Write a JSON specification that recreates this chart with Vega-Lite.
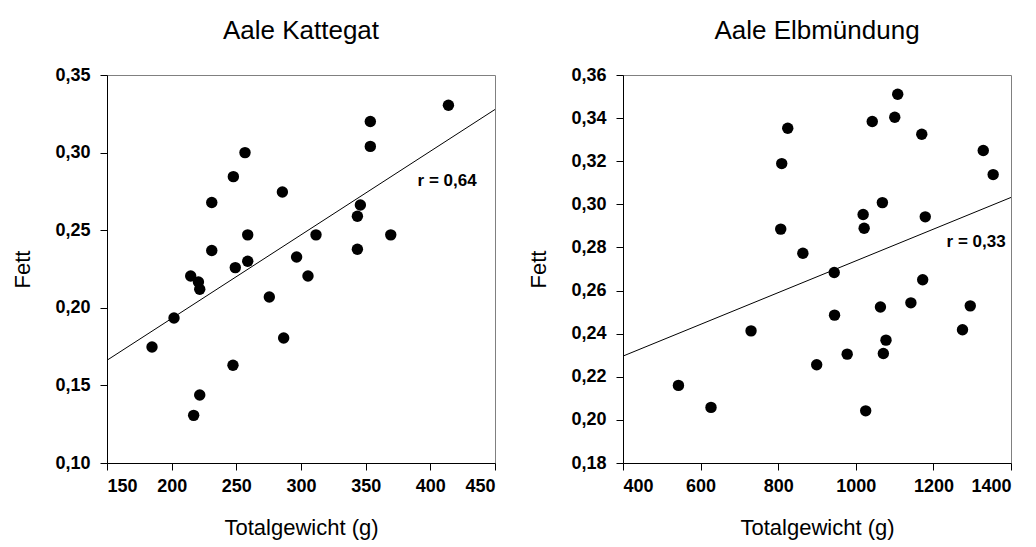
{
  "$schema": "https://vega.github.io/schema/vega-lite/v6.json",
  "background": "white",
  "padding": {"left": 11, "top": 17, "right": 5, "bottom": 5},
  "config": {
    "font": "Liberation Sans",
    "view": {"stroke": "#808080", "strokeWidth": 1},
    "axis": {
      "grid": false,
      "labelFont": "Liberation Sans",
      "labelFontWeight": "bold",
      "labelFontSize": 18,
      "labelColor": "black",
      "titleFont": "Liberation Sans",
      "titleFontWeight": "normal",
      "titleFontSize": 22,
      "titleColor": "black",
      "domainColor": "black",
      "tickColor": "black",
      "tickSize": 7
    },
    "title": {"font": "Liberation Sans", "fontSize": 26, "fontWeight": "normal", "color": "black", "offset": 22}
  },
  "datasets": {
    "kattegat": [
      {"gewicht": 414, "fett": 0.3305},
      {"gewicht": 353.6, "fett": 0.320},
      {"gewicht": 353.6, "fett": 0.304},
      {"gewicht": 256.7, "fett": 0.300},
      {"gewicht": 247.7, "fett": 0.2845},
      {"gewicht": 285.6, "fett": 0.2746},
      {"gewicht": 231, "fett": 0.2678},
      {"gewicht": 345.9, "fett": 0.2662},
      {"gewicht": 343.6, "fett": 0.259},
      {"gewicht": 258.8, "fett": 0.247},
      {"gewicht": 311.6, "fett": 0.247},
      {"gewicht": 369.4, "fett": 0.247},
      {"gewicht": 231, "fett": 0.2369},
      {"gewicht": 343.6, "fett": 0.2377},
      {"gewicht": 258.8, "fett": 0.230},
      {"gewicht": 296.6, "fett": 0.2327},
      {"gewicht": 249.2, "fett": 0.2259},
      {"gewicht": 305.4, "fett": 0.2205},
      {"gewicht": 214.7, "fett": 0.2205},
      {"gewicht": 220.7, "fett": 0.2166},
      {"gewicht": 221.7, "fett": 0.2119},
      {"gewicht": 275.5, "fett": 0.207},
      {"gewicht": 201.8, "fett": 0.1934},
      {"gewicht": 184.8, "fett": 0.1747},
      {"gewicht": 286.6, "fett": 0.1805},
      {"gewicht": 247.4, "fett": 0.163},
      {"gewicht": 221.7, "fett": 0.1438},
      {"gewicht": 217, "fett": 0.1307}
    ],
    "kattegat_fit": [
      {"gewicht": 150, "fett": 0.1662},
      {"gewicht": 450, "fett": 0.3278}
    ],
    "kattegat_r": [
      {"gewicht": 413, "fett": 0.2817, "label": "r = 0,64"}
    ],
    "elbe": [
      {"gewicht": 1108, "fett": 0.3511},
      {"gewicht": 1100.4, "fett": 0.3404},
      {"gewicht": 1042.4, "fett": 0.3384},
      {"gewicht": 824.6, "fett": 0.3353},
      {"gewicht": 1170, "fett": 0.3325},
      {"gewicht": 1328.5, "fett": 0.325},
      {"gewicht": 809.1, "fett": 0.3189},
      {"gewicht": 1354, "fett": 0.3138},
      {"gewicht": 1068.5, "fett": 0.3008},
      {"gewicht": 1018.9, "fett": 0.2953},
      {"gewicht": 1179, "fett": 0.2942},
      {"gewicht": 1021.5, "fett": 0.2889},
      {"gewicht": 806.5, "fett": 0.2885},
      {"gewicht": 863.6, "fett": 0.2773},
      {"gewicht": 944.4, "fett": 0.2684},
      {"gewicht": 1172.4, "fett": 0.265},
      {"gewicht": 1063.5, "fett": 0.2524},
      {"gewicht": 1142, "fett": 0.2543},
      {"gewicht": 1295, "fett": 0.2529},
      {"gewicht": 945.2, "fett": 0.2486},
      {"gewicht": 730, "fett": 0.2413},
      {"gewicht": 1275, "fett": 0.2418},
      {"gewicht": 1077.8, "fett": 0.237},
      {"gewicht": 977.8, "fett": 0.2305},
      {"gewicht": 1071, "fett": 0.2308},
      {"gewicht": 899.2, "fett": 0.2256},
      {"gewicht": 542.9, "fett": 0.216},
      {"gewicht": 626.8, "fett": 0.2058},
      {"gewicht": 1025.5, "fett": 0.2042}
    ],
    "elbe_fit": [
      {"gewicht": 400, "fett": 0.2296},
      {"gewicht": 1400, "fett": 0.3032}
    ],
    "elbe_r": [
      {"gewicht": 1310, "fett": 0.2826, "label": "r = 0,33"}
    ]
  },
  "hconcat": [
    {
      "width": 388,
      "height": 388,
      "title": {"text": "Aale Kattegat"},
      "encoding": {
        "x": {"field": "gewicht", "type": "quantitative",
              "scale": {"domain": [150, 450], "nice": false, "zero": false},
              "axis": {"values": [150, 200, 250, 300, 350, 400, 450], "format": "d", "title": "Totalgewicht (g)", "labelPadding": 7, "titlePadding": 22}},
        "y": {"field": "fett", "type": "quantitative",
              "scale": {"domain": [0.10, 0.35], "nice": false, "zero": false},
              "axis": {"values": [0.10, 0.15, 0.20, 0.25, 0.30, 0.35], "labelExpr": "replace(format(datum.value, '.2f'), '.', ',')", "title": "Fett", "labelPadding": 10, "titlePadding": 20}}
      },
      "layer": [
        {"data": {"name": "kattegat_fit"}, "mark": {"type": "line", "color": "black", "strokeWidth": 1}},
        {"data": {"name": "kattegat"}, "mark": {"type": "point", "filled": true, "size": 130, "color": "black", "opacity": 1}},
        {"data": {"name": "kattegat_r"}, "mark": {"type": "text", "fontWeight": "bold", "fontSize": 17, "align": "center", "baseline": "middle", "color": "black"},
         "encoding": {"text": {"field": "label"}}}
      ]
    },
    {
      "width": 388,
      "height": 388,
      "title": {"text": "Aale Elbmündung"},
      "encoding": {
        "x": {"field": "gewicht", "type": "quantitative",
              "scale": {"domain": [400, 1400], "nice": false, "zero": false},
              "axis": {"values": [400, 600, 800, 1000, 1200, 1400], "format": "d", "title": "Totalgewicht (g)", "labelPadding": 7, "titlePadding": 22}},
        "y": {"field": "fett", "type": "quantitative",
              "scale": {"domain": [0.18, 0.36], "nice": false, "zero": false},
              "axis": {"values": [0.18, 0.20, 0.22, 0.24, 0.26, 0.28, 0.30, 0.32, 0.34, 0.36], "labelExpr": "replace(format(datum.value, '.2f'), '.', ',')", "title": "Fett", "labelPadding": 10, "titlePadding": 20}}
      },
      "layer": [
        {"data": {"name": "elbe_fit"}, "mark": {"type": "line", "color": "black", "strokeWidth": 1}},
        {"data": {"name": "elbe"}, "mark": {"type": "point", "filled": true, "size": 130, "color": "black", "opacity": 1}},
        {"data": {"name": "elbe_r"}, "mark": {"type": "text", "fontWeight": "bold", "fontSize": 17, "align": "center", "baseline": "middle", "color": "black"},
         "encoding": {"text": {"field": "label"}}}
      ]
    }
  ],
  "spacing": 29
}
